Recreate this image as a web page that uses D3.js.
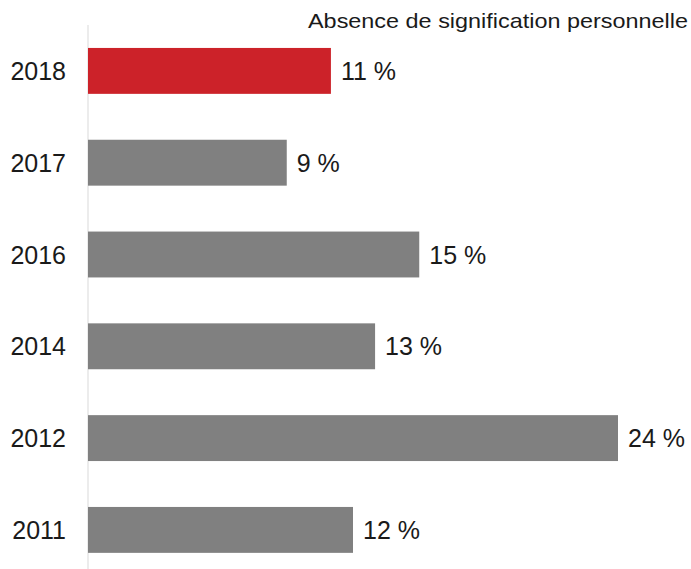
<!DOCTYPE html>
<html>
<head>
<meta charset="utf-8">
<script src="https://cdn.jsdelivr.net/npm/d3@7"></script>
<style>
  body { margin: 0; background: #fff; }
  text { font-family: "Liberation Sans", Arial, sans-serif; fill: #1a1a1a; }
</style>
</head>
<body>
<div id="chart"></div>
<script>
let years = ["2018", "2017", "2016", "2014", "2012", "2011"];
let values = [11, 9, 15, 13, 24, 12];
let title = "Absence de signification personnelle";

let width = 691, height = 569;

let svg = d3.select("#chart")
    .append("svg")
    .attr("width", width)
    .attr("height", height);

let x = d3.scaleLinear()
    .domain([0, 24])
    .range([88, 618]);

let y = d3.scaleBand()
    .domain(years)
    .range([25, 25 + 6 * 91.8])
    .paddingInner(0.5)
    .paddingOuter(0.25);

// vertical axis line
svg.append("line")
    .attr("x1", x(0)).attr("x2", x(0))
    .attr("y1", 25).attr("y2", height)
    .style("stroke", "#ececec")
    .style("stroke-width", 2);

let data = years.map(function (d, i) { return { year: d, value: values[i] }; });

svg.selectAll("rect")
    .data(data)
    .enter()
    .append("rect")
    .attr("x", x(0))
    .attr("y", function (d) { return y(d.year); })
    .attr("width", function (d) { return x(d.value) - x(0); })
    .attr("height", y.bandwidth())
    .style("fill", function (d, i) { return i === 0 ? "#cc2229" : "#808080"; });

svg.selectAll(".year")
    .data(data)
    .enter()
    .append("text")
    .attr("class", "year")
    .attr("x", 66)
    .attr("y", function (d) { return y(d.year) + y.bandwidth() / 2; })
    .attr("dy", "0.36em")
    .attr("text-anchor", "end")
    .attr("font-size", "25px")
    .text(function (d) { return d.year; });

svg.selectAll(".val")
    .data(data)
    .enter()
    .append("text")
    .attr("class", "val")
    .attr("x", function (d) { return x(d.value) + 10; })
    .attr("y", function (d) { return y(d.year) + y.bandwidth() / 2; })
    .attr("dy", "0.36em")
    .attr("font-size", "25px")
    .text(function (d) { return d.value + " %"; });

svg.append("text")
    .attr("x", 308)
    .attr("y", 28)
    .attr("font-size", "21px")
    .attr("textLength", 380)
    .attr("lengthAdjust", "spacingAndGlyphs")
    .text(title);
</script>
</body>
</html>
